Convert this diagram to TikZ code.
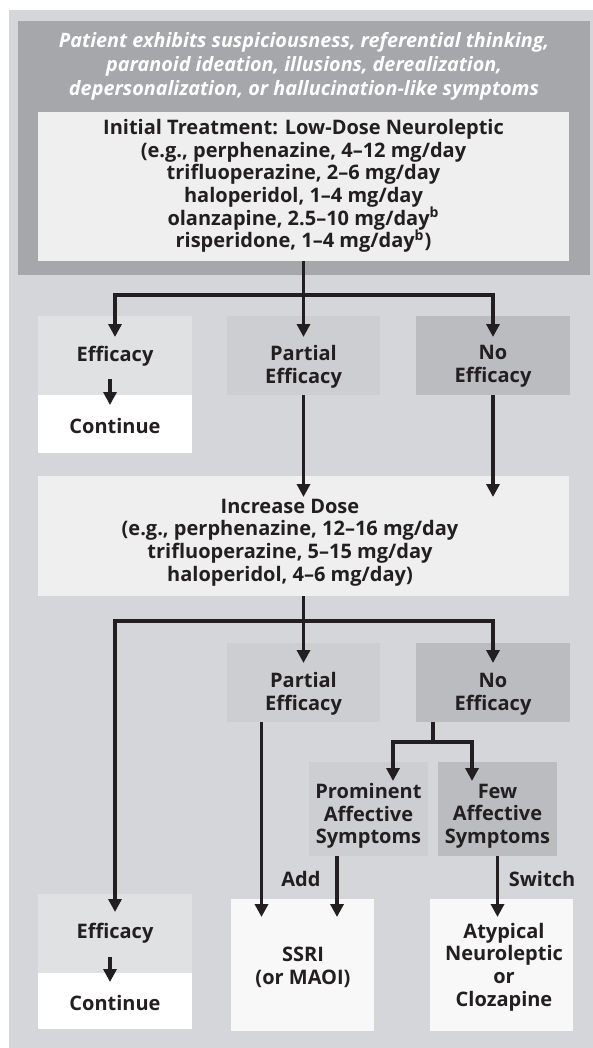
\documentclass[tikz,border=0pt]{standalone}
\usepackage{fontspec}
\setmainfont{Open Sans}
\usetikzlibrary{arrows.meta,calc}
\definecolor{ink}{HTML}{231F20}
\definecolor{bgcol}{HTML}{D5D6D9}
\definecolor{hdrcol}{HTML}{A6A7AA}
\definecolor{initcol}{HTML}{EFEFEF}
\definecolor{lightcol}{HTML}{E0E1E3}
\definecolor{midcol}{HTML}{CDCED1}
\definecolor{darkcol}{HTML}{BBBCBF}
\definecolor{endcol}{HTML}{F8F8F8}

\begin{document}
\begin{tikzpicture}[x=0.5pt,y=-0.5pt,
  box/.style={anchor=north west,inner sep=0pt,outer sep=0pt},
  lbl/.style={align=center,text=ink,inner sep=0pt,font=\bfseries\fontsize{10}{11.35}\selectfont},
  conn/.style={draw=ink,line width=1.7pt},
  arr/.style={conn,-{Triangle[length=6.5pt,width=6.5pt]}}]
\newcommand{\flowbox}[6]{
  \node[box,fill=#6,minimum width={(#4-#2)*0.5pt},minimum height={(#5-#3)*0.5pt}] (#1) at (#2,#3) {};
}

\useasboundingbox (0,0) rectangle (593,1048);
\fill[bgcol] (9,10) rectangle (593,1048);

% boxes: name, left, top, right, bottom, colour
\flowbox{hdr}{18}{21}{590}{275}{hdrcol}
\flowbox{init}{38}{112}{569}{261}{initcol}
\flowbox{eff1}{38}{316}{192}{395}{lightcol}
\flowbox{cont1}{38}{395}{192}{453}{white}
\flowbox{part1}{227}{316}{380}{395}{midcol}
\flowbox{noeff1}{416}{316}{570}{395}{darkcol}
\flowbox{incr}{38}{476}{569}{596}{initcol}
\flowbox{part2}{227}{643}{380}{722}{midcol}
\flowbox{noeff2}{416}{643}{570}{722}{darkcol}
\flowbox{prom}{309}{762}{428}{856}{midcol}
\flowbox{few}{438}{762}{557}{856}{darkcol}
\flowbox{eff2}{38}{894}{192}{973}{lightcol}
\flowbox{cont2}{38}{973}{192}{1029}{white}
\flowbox{ssri}{231}{899}{374}{1031}{endcol}
\flowbox{atyp}{430}{899}{573}{1031}{endcol}

% texts
\node[lbl,text=white,font=\bfseries\itshape\fontsize{9.9}{12}\selectfont] (hdrt) at (304,66.5)
  {Patient exhibits suspiciousness, referential thinking,\\
   paranoid ideation, illusions, derealization,\\
   depersonalization, or hallucination-like symptoms};
\node[lbl] (initt) at (303.5,186)
  {Initial Treatment: Low-Dose Neuroleptic\\
   (e.g., perphenazine, 4–12 mg/day\\
   trifluoperazine, 2–6 mg/day\\
   haloperidol, 1–4 mg/day\\
   olanzapine, 2.5–10 mg/day\textsuperscript{b}\\
   risperidone, 1–4 mg/day\textsuperscript{b})};
\node[lbl] (eff1t) at (115,356) {Efficacy};
\node[lbl] (cont1t) at (115,426) {Continue};
\node[lbl] (part1t) at (303.5,366.5) {Partial\\Efficacy};
\node[lbl] (noeff1t) at (493,366.5) {No\\Efficacy};
\node[lbl] (incrt) at (290,542.5)
  {Increase Dose\\
   (e.g., perphenazine, 12–16 mg/day\\
   trifluoperazine, 5–15 mg/day\\
   haloperidol, 4–6 mg/day)};
\node[lbl] (part2t) at (303.5,694) {Partial\\Efficacy};
\node[lbl] (noeff2t) at (493,694) {No\\Efficacy};
\node[lbl] (promt) at (368.5,816) {Prominent\\Affective\\Symptoms};
\node[lbl] (fewt) at (497.5,816) {Few\\Affective\\Symptoms};
\node[lbl] (eff2t) at (115,933) {Efficacy};
\node[lbl] (cont2t) at (115,1003) {Continue};
\node[lbl] (ssrit) at (303,967) {SSRI\\(or MAOI)};
\node[lbl] (atypt) at (504,967) {Atypical\\Neuroleptic\\or\\Clozapine};
\node[lbl] (addt) at (301,879) {Add};
\node[lbl] (switcht) at (542,879) {Switch};

% first branching
\coordinate (s1) at ($(init.south)+(0,34)$);
\draw[arr] (init.south) -- ($(part1.north)+(0,21)$);
\draw[arr] (s1) -| ($(eff1.north)+(0,21)$);
\draw[arr] (s1) -| ($(noeff1.north)+(0,21)$);
\draw[arr] ($(eff1.south)+(-5,-16)$) -- ($(cont1.north)+(-5,10)$);
\draw[arr] (part1.south) -- ($(incr.north)+(0,21)$);
\draw[arr] (noeff1.south) -- ($(noeff1.south |- incr.north)+(0,21)$);

% second branching
\coordinate (s2) at ($(incr.south)+(0,25)$);
\draw[arr] (incr.south) -- ($(part2.north)+(0,20)$);
\draw[arr] (s2) -| ($(eff2.north)+(0,18)$);
\draw[arr] (s2) -| ($(noeff2.north)+(0,20)$);
\draw[arr] ($(eff2.south)+(-5,-16)$) -- ($(cont2.north)+(-5,9)$);
\coordinate (p2a) at ($(part2.south)+(-42,0)$);
\draw[arr] (p2a) -- ($(p2a |- ssri.north)+(0,18)$);

% no efficacy split
\coordinate (s3) at ($(noeff2.south)+(-60,20)$);
\draw[conn] ($(noeff2.south)+(-60,0)$) -- (s3);
\draw[arr] (s3) -| ($(prom.north)+(24.5,19)$);
\draw[arr] (s3) -| ($(few.north)+(-25.5,19)$);
\draw[arr] ($(prom.south)+(-31.5,0)$) -- ($(prom.south |- ssri.north)+(-31.5,18)$);
\draw[arr] (few.south) -- ($(few.south |- atyp.north)+(0,18)$);
\end{tikzpicture}
\end{document}
